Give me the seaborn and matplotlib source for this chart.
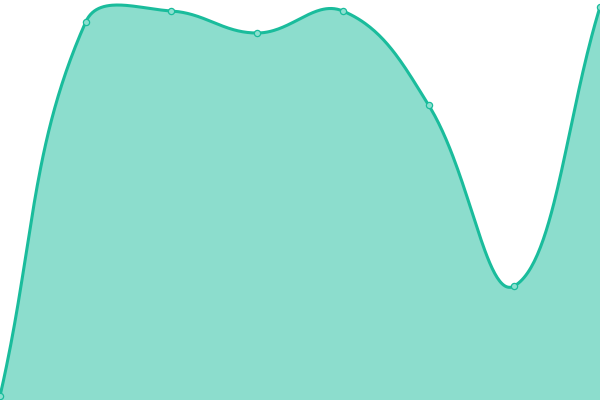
import numpy as np
import pandas as pd
import matplotlib
matplotlib.use("Agg")
import matplotlib.pyplot as plt
import seaborn as sns

# valori (scala 0-400)
labels = ["A", "B", "C", "D", "E", "F", "G", "H"]
values = [4, 378, 389, 367, 389, 295, 114, 393]

LINE = "#1abc9c"
W, H = 600, 400
TENSION = 0.4


def spline_path(xs, ys, tension=TENSION, steps=60):
    """Curva bezier stile Chart.js (calcolata in pixel)."""
    px = np.asarray(xs, float) * W / (len(xs) - 1)
    py = np.asarray(ys, float)
    n = len(px)
    cp_prev, cp_next = [], []
    for i in range(n):
        p0 = (px[max(i - 1, 0)], py[max(i - 1, 0)])
        p1 = (px[i], py[i])
        p2 = (px[min(i + 1, n - 1)], py[min(i + 1, n - 1)])
        d01 = np.hypot(p1[0] - p0[0], p1[1] - p0[1])
        d12 = np.hypot(p2[0] - p1[0], p2[1] - p1[1])
        s01 = d01 / (d01 + d12) if d01 + d12 else 0
        s12 = d12 / (d01 + d12) if d01 + d12 else 0
        fa, fb = tension * s01, tension * s12
        cp_prev.append((p1[0] - fa * (p2[0] - p0[0]), p1[1] - fa * (p2[1] - p0[1])))
        cp_next.append((p1[0] + fb * (p2[0] - p0[0]), p1[1] + fb * (p2[1] - p0[1])))
    t = np.linspace(0, 1, steps)[:, None]
    segs = []
    for i in range(n - 1):
        a = np.array([px[i], py[i]])
        b = np.array(cp_next[i])
        c = np.array(cp_prev[i + 1])
        d = np.array([px[i + 1], py[i + 1]])
        seg = ((1 - t) ** 3) * a + 3 * ((1 - t) ** 2) * t * b + 3 * (1 - t) * t ** 2 * c + t ** 3 * d
        segs.append(seg if i == 0 else seg[1:])
    curve = np.vstack(segs)
    curve[:, 1] = np.clip(curve[:, 1], 0, H)
    return curve[:, 0] * (len(xs) - 1) / W, curve[:, 1]


df = pd.DataFrame({"x": np.arange(len(values)), "y": values, "label": labels})
cx, cy = spline_path(df["x"], df["y"])

sns.set_theme(style="white")
fig = plt.figure(figsize=(6, 4), dpi=100)
ax = fig.add_axes([0, 0, 1, 1])

ax.fill_between(cx, cy, 0, color=LINE, alpha=0.5, linewidth=0)
sns.lineplot(x=cx, y=cy, ax=ax, color=LINE, linewidth=2.2, sort=False)
sns.scatterplot(data=df, x="x", y="y", ax=ax, s=20, color="#8ce0d0",
                edgecolor=LINE, linewidth=0.9, zorder=5, clip_on=False)

ax.set_xlim(0, len(values) - 1)
ax.set_ylim(0, 400)
ax.axis("off")

fig.savefig("out.png", dpi=100)
